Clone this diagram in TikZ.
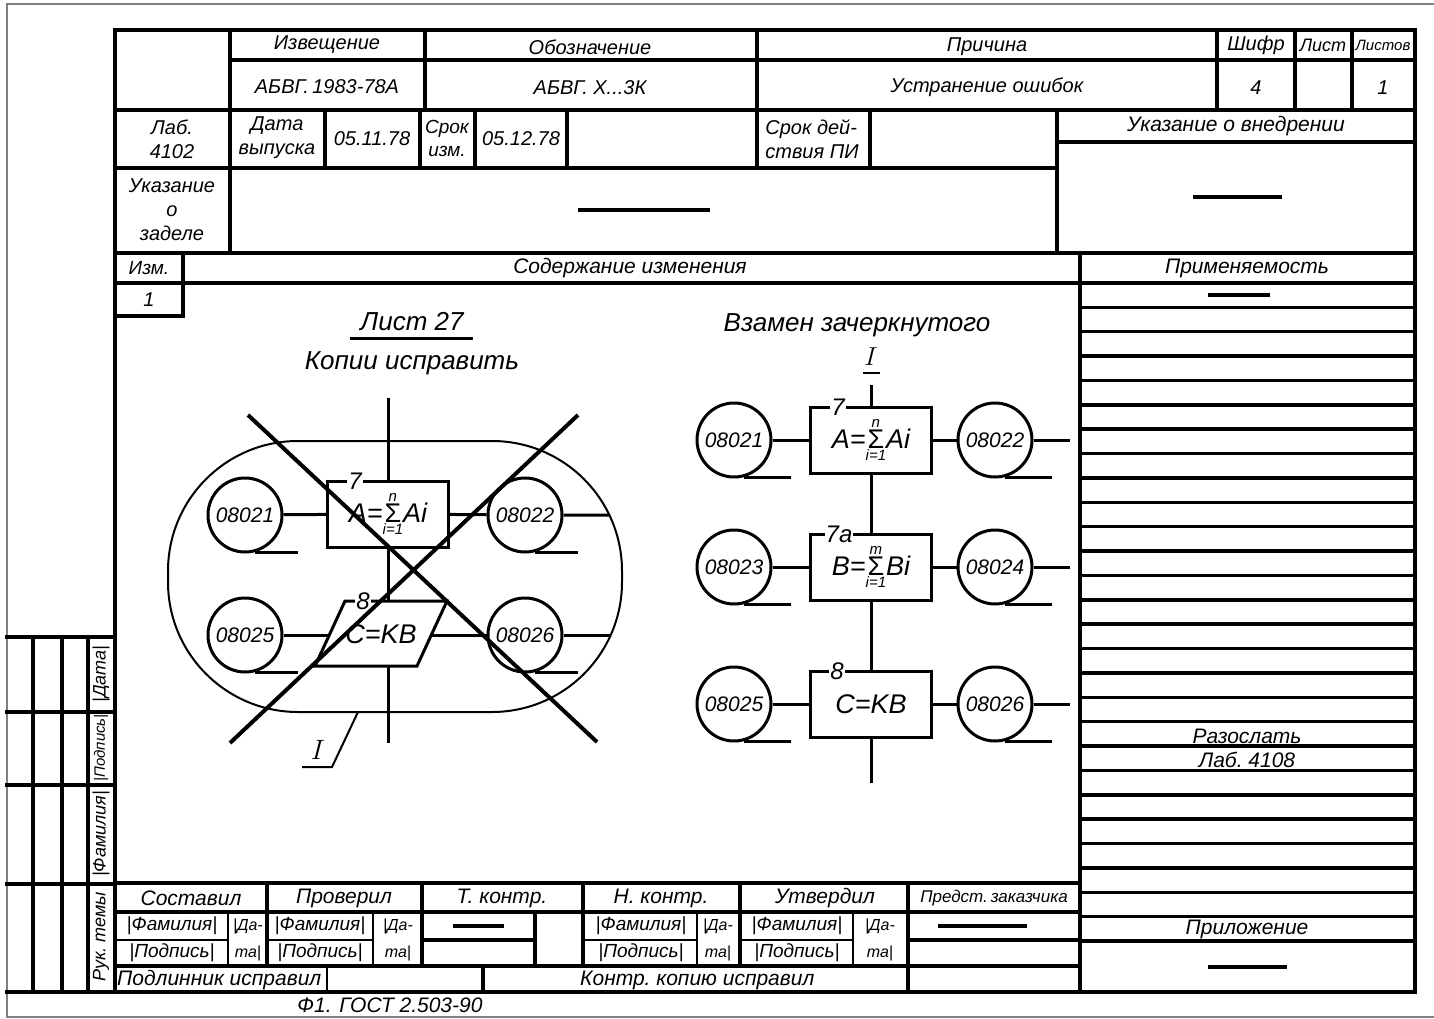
\RequirePackage{fix-cm}
\documentclass[tikz,border=0pt]{standalone}
\usepackage{fontspec}
\setmainfont{Liberation Sans}
\newcommand{\fs}[1]{\fontsize{#1}{\the\numexpr#1*6/5\relax}\selectfont\itshape}
\newcommand{\sumlim}[2]{$\mathop{\hbox{\upshape Σ}}\limits_{\hbox{\fs{15}#1}}^{\hbox{\fs{15}#2}}$}

\begin{document}
\begin{tikzpicture}[x=1pt,y=-1pt,
  thk/.style={line width=3.5pt,line cap=rect},
  thn/.style={line width=2pt},
  ln/.style={line width=3pt},
  circ/.style={draw,circle,line width=3pt,minimum size=74pt,inner sep=0pt,font=\fs{21}},
  blk/.style={draw,line width=3pt,minimum width=121pt,minimum height=66pt,inner sep=0pt,font=\fs{27}},
  lbl/.style={fill=white,inner sep=1pt,font=\fs{24}},
  txt/.style={font=\fs{20},inner sep=0pt}]
\useasboundingbox (0,0) rectangle (1434,1019);
%outer sheet
\draw[gray,line width=1.5pt] (1434,4) -- (7,4) -- (7,1017) -- (1434,1017);

%frame
\draw[thk] (115,30) rectangle (1415,992);
\draw[thk] (7,992) -- (115,992);
%header lines
\draw[thk] (230,60) -- (1415,60);
\draw[thk] (115,110) -- (1415,110);
\draw[thk] (1057,142) -- (1415,142);
\draw[thk] (115,168) -- (1057,168);
\draw[thk] (115,253) -- (1415,253);
\draw[thk] (115,283) -- (1415,283);
\draw[thk] (115,316) -- (183,316);
\draw[thk] (230,30) -- (230,253);
\foreach \x in {425,757,1217,1295,1352} \draw[thk] (\x,30) -- (\x,110);
\foreach \x in {325,420,475,567,757,870} \draw[thk] (\x,110) -- (\x,168);
\draw[thk] (1057,110) -- (1057,253);
\draw[thk] (183,253) -- (183,316);
\draw[thk] (1080,253) -- (1080,992);
%header texts
\node[txt] (h1) at (327,45) {Извещение};
\node[txt] (h2) at (590,47) {Обозначение};
\node[txt] (h3) at (987,47) {Причина};
\node[txt] (h4) at (1256,45) {Шифр};
\node[txt,font=\fs{18}] (h5) at (1323,45) {Лист};
\node[txt,font=\fs{15}] (h6) at (1383,45) {Листов};
\node[txt] (v1) at (327,87) {АБВГ.\,1983-78А};
\node[txt] (v2) at (590,88) {АБВГ.\ X...3К};
\node[txt] (v3) at (987,87) {Устранение ошибок};
\node[txt] (v4) at (1256,88) {4};
\node[txt] (v5) at (1383,88) {1};
\node[txt,align=center] (r3a) at (172,139) {Лаб.\\4102};
\node[txt,align=center] (r3b) at (277,138) {Дата\\выпуска};
\node[txt] (r3c) at (372,139) {05.11.78};
\node[txt,align=center,font=\fs{19}] (r3d) at (447,138) {Срок\\изм.};
\node[txt] (r3e) at (521,139) {05.12.78};
\node[txt,align=left] (r3f) at (812,139) {Срок дей-\\ствия ПИ};
\node[txt,font=\fs{21}] (r3g) at (1236,126) {Указание о внедрении};
\node[txt,align=center] (r4a) at (172,210) {Указание\\о\\заделе};
\draw[thk] (580,210) -- (708,210);
\draw[thk] (1195,197) -- (1280,197);
\node[txt,font=\fs{19}] (iz) at (149,268) {Изм.};
\node[txt,font=\fs{21}] (sod) at (630,268) {Содержание изменения};
\node[txt,font=\fs{21}] (prm) at (1247,268) {Применяемость};
\node[txt] (n1) at (149,300) {1};

%right column
\foreach \k in {1,...,27} \draw[thk] (1080,{283+24.37*\k}) -- (1415,{283+24.37*\k});
\draw[thk] (1210,295) -- (1268,295);
\node[txt,font=\fs{21}] (raz) at (1247,736) {Разослать};
\node[txt,font=\fs{21}] (lab) at (1247,760) {Лаб.\ 4108};
\node[txt,font=\fs{21}] (pril) at (1247,929) {Приложение};
\draw[thk] (1210,967) -- (1285,967);

%left stamp
\foreach \y in {637,712,785,884} \draw[thk] (7,\y) -- (115,\y);
\foreach \x in {33,62,88} \draw[thk] (\x,637) -- (\x,992);
\node[txt,rotate=90,font=\fs{18}] (s1) at (101,674) {|Дата|};
\node[txt,rotate=90,font=\fs{15}] (s2) at (101,748) {|Подпись|};
\node[txt,rotate=90,font=\fs{18}] (s3) at (101,834) {|Фамилия|};
\node[txt,rotate=90,font=\fs{18}] (s4) at (101,937) {Рук.\ темы};

%bottom table
\foreach \y in {883,912,966} \draw[thk] (115,\y) -- (1080,\y);
\draw[thk] (422,940) -- (535,940);
\draw[thk] (908,940) -- (1080,940);
\foreach \a/\b in {115/228,267/373,583/697,740/853} \draw[thn] (\a,940) -- (\b,940);
\foreach \x in {267,422,583,740,908} \draw[thk] (\x,883) -- (\x,966);
\draw[thk] (535,912) -- (535,966);
\foreach \x in {228,373,697,853} \draw[thn] (\x,912) -- (\x,966);
\draw[thn] (327,966) -- (327,992);
\foreach \x in {483,908} \draw[thk] (\x,966) -- (\x,992);
\node[txt,font=\fs{21}] (b1) at (191,898) {Составил};
\node[txt,font=\fs{21}] (b2) at (344,898) {Проверил};
\node[txt,font=\fs{21}] (b3) at (502,898) {Т.\ контр.};
\node[txt,font=\fs{21}] (b4) at (661,898) {Н.\ контр.};
\node[txt,font=\fs{21}] (b5) at (825,898) {Утвердил};
\node[txt,font=\fs{17}] (b6) at (994,898) {Предст.\,заказчика};
\foreach \n/\x/\d in {f1/172/248,f2/320/398,f3/641/718,f4/797/880}{
  \node[txt,font=\fs{19}] (\n) at (\x,926) {|Фамилия|};
  \node[txt,font=\fs{19}] (\n p) at (\x,953) {|Подпись|};
  \node[txt,font=\fs{16}] (\n d) at (\d,926) {|Да-};
  \node[txt,font=\fs{16}] (\n t) at (\d,953) {та|};
}
\draw[thk] (455,926) -- (502,926);
\draw[thk] (940,926) -- (1025,926);
\node[txt,font=\fs{21},anchor=west] (pod) at (117,980) {Подлинник исправил};
\node[txt,font=\fs{21},anchor=west] (kon) at (580,980) {Контр.\ копию исправил};
\node[txt,font=\fs{21}] (gost) at (390,1005) {Ф1. ГОСТ 2.503-90};

%left scheme (crossed out)
\node[txt,font=\fs{26}] (l27) at (412,322) {Лист 27};
\draw[ln] (350,338) -- (473,338);
\node[txt,font=\fs{26}] (kop) at (412,363) {Копии исправить};
\draw[thn,rounded corners=130pt] (168,441) rectangle (622,712);
\node[blk] (la) at (388,514) {A=\sumlim{i=1}{n}Ai};
\node[lbl] (la7) at (355,481) {7};
\node[circ] (l21) at (245,515) {08021};
\node[circ] (l22) at (525,515) {08022};
\node[circ] (l25) at (245,635) {08025};
\node[circ] (l26) at (525,635) {08026};
\coordinate (p1) at (345,601); \coordinate (p2) at (447,601);
\coordinate (p3) at (417,666); \coordinate (p4) at (315,666);
\draw[ln] (p1) -- (p2) -- (p3) -- (p4) -- cycle;
\node[txt,font=\fs{27}] (lc) at (381,634) {C=KB};
\node[lbl] (lc8) at (363,601) {8};
\coordinate (pl) at (329,635); \coordinate (pr) at (431,635);
\coordinate (pt) at (388,601); \coordinate (pb) at (388,666);
\coordinate (lt) at (388,398); \coordinate (lb) at (388,743);
\coordinate (e22) at (610,515); \coordinate (e26) at (610,635);
\draw[ln] (l21) -- (la) -- (l22) -- (e22);
\draw[ln] (l25) -- (pl);
\draw[ln] (pr) -- (l26) -- (e26);
\draw[ln] (lt) -- (la.north);
\draw[ln] (la.south) -- (pt);
\draw[ln] (pb) -- (lb);
\foreach \c in {l21,l22,l25,l26} \draw[ln] (\c.-75) -- ++(43,0);
%leader I
\coordinate (lI0) at (358,712);
\draw[thn] (lI0) -- (332,767) -- (302,767);
\node[txt,font=\fs{28}] (lI) at (318,750) {$I$};
%cross
\coordinate (x1) at (248,415); \coordinate (x2) at (597,742);
\coordinate (x3) at (578,415); \coordinate (x4) at (230,743);
\draw[line width=4pt] (x1) -- (x2);
\draw[line width=4pt] (x3) -- (x4);

%right scheme
\node[txt,font=\fs{26}] (vzm) at (857,325) {Взамен зачеркнутого};
\node[txt,font=\fs{26}] (rI) at (871,357) {$I$};
\draw[thn] (863,373) -- (880,373);
\node[blk] (ra) at (871,440) {A=\sumlim{i=1}{n}Ai};
\node[blk] (rb) at (871,567) {B=\sumlim{i=1}{m}Bi};
\node[blk] (rc) at (871,704) {C=KB};
\node[lbl] (ra7) at (838,407) {7};
\node[lbl] (rb7) at (839,534) {7a};
\node[lbl] (rc8) at (837,671) {8};
\coordinate (rt) at (871,385); \coordinate (rbt) at (871,783);
\draw[ln] (rt) -- (ra.north);
\draw[ln] (ra.south) -- (rb.north);
\draw[ln] (rb.south) -- (rc.north);
\draw[ln] (rc.south) -- (rbt);
\foreach \n/\y/\l/\r in {a/440/08021/08022,b/567/08023/08024,c/704/08025/08026}{
  \node[circ] (rl\n) at (734,\y) {\l};
  \node[circ] (rr\n) at (995,\y) {\r};
  \coordinate (re\n) at (1070,\y);
  \draw[ln] (rl\n) -- (r\n) -- (rr\n) -- (re\n);
  \draw[ln] (rl\n.-75) -- ++(47,0);
  \draw[ln] (rr\n.-75) -- ++(47,0);
}
\end{tikzpicture}
\end{document}
